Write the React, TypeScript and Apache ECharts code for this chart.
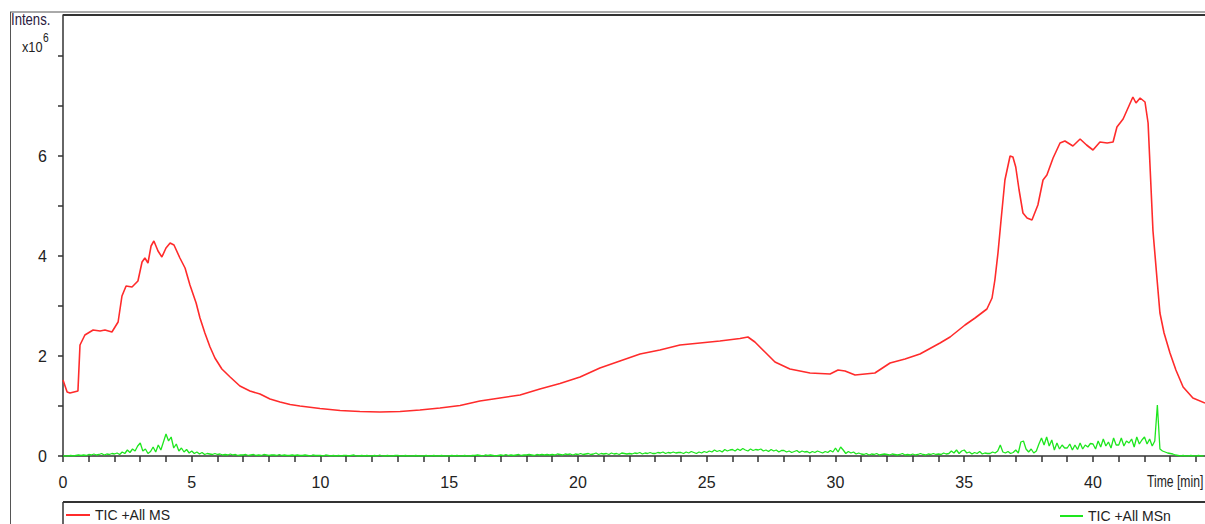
import React, { useEffect, useRef } from "react";
import * as echarts from "echarts";

// TIC +All MS (red) — time [min] and intensity [x10^6]
const redTimes = [
  0, 0.16, 0.27, 0.58, 0.66, 0.85, 1.17, 1.44, 1.63, 1.9, 2.14, 2.29, 2.45, 2.68, 2.91,
  3.07, 3.18, 3.3, 3.42, 3.53, 3.69, 3.84, 4.0, 4.16, 4.31, 4.54, 4.74, 4.93, 5.17, 5.32,
  5.51, 5.71, 5.9, 6.17, 6.49, 6.87, 7.26, 7.65, 8.04, 8.43, 8.82, 9.2, 9.98, 10.76, 11.53,
  12.31, 13.09, 13.86, 14.64, 15.42, 16.19, 16.97, 17.75, 18.52, 19.3, 20.08, 20.85, 21.63,
  22.41, 23.18, 23.96, 24.74, 25.51, 26.29, 26.6, 26.87, 27.26, 27.65, 28.23, 29.01, 29.79,
  30.1, 30.37, 30.76, 31.53, 32.12, 32.7, 33.28, 34.06, 34.45, 35.03, 35.42, 35.88, 36.08,
  36.19, 36.31, 36.43, 36.58, 36.78, 36.89, 37.0, 37.13, 37.28, 37.44, 37.63, 37.86, 38.06,
  38.21, 38.45, 38.72, 38.91, 39.22, 39.5, 39.75, 40.0, 40.27, 40.55, 40.78, 40.93, 41.17,
  41.36, 41.55, 41.67, 41.83, 42.02, 42.14, 42.21, 42.33, 42.49, 42.6, 42.76, 42.99, 43.22,
  43.5, 43.88, 44.35,
];
const redValues = [
  1.52, 1.28, 1.26, 1.3, 2.22, 2.42, 2.52, 2.5, 2.52, 2.48, 2.68, 3.2, 3.4, 3.38, 3.5,
  3.88, 3.96, 3.86, 4.2, 4.3, 4.1, 3.98, 4.16, 4.26, 4.22, 3.96, 3.76, 3.42, 3.06, 2.76,
  2.46, 2.18, 1.96, 1.74, 1.58, 1.4, 1.3, 1.24, 1.14, 1.08, 1.03, 1.0, 0.95, 0.91, 0.89,
  0.88, 0.89, 0.92, 0.96, 1.01, 1.1, 1.16, 1.22, 1.34, 1.45, 1.58, 1.76, 1.9,
  2.04, 2.12, 2.22, 2.26, 2.3, 2.35, 2.38, 2.28, 2.08, 1.88, 1.74, 1.66, 1.64,
  1.72, 1.7, 1.62, 1.66, 1.86, 1.94, 2.04, 2.26, 2.38, 2.62, 2.76, 2.94, 3.16,
  3.52, 4.06, 4.72, 5.52, 6.0, 5.98, 5.78, 5.32, 4.86, 4.76, 4.72, 5.02, 5.52,
  5.62, 5.96, 6.26, 6.3, 6.2, 6.34, 6.22, 6.12, 6.28, 6.26, 6.28, 6.58, 6.74,
  6.96, 7.18, 7.06, 7.16, 7.08, 6.66, 5.86, 4.5, 3.52, 2.86, 2.46, 2.06, 1.72,
  1.38, 1.16, 1.06,
];

// TIC +All MSn (green) — one value every GREEN_STEP minutes from 0 (one row per minute)
const GREEN_STEP = 0.1;
const greenValues = [
  0, 0, 0, 0.01, 0, 0.01, 0.02, 0.01, 0.02, 0.01,
  0.03, 0.02, 0.04, 0.02, 0.03, 0.05, 0.02, 0.04, 0.03, 0.05,
  0.04, 0.06, 0.03, 0.08, 0.05, 0.12, 0.07, 0.14, 0.1, 0.2,
  0.26, 0.1, 0.14, 0.05, 0.09, 0.18, 0.08, 0.22, 0.12, 0.28,
  0.44, 0.3, 0.38, 0.16, 0.24, 0.1, 0.16, 0.08, 0.13, 0.06,
  0.1, 0.05, 0.08, 0.04, 0.07, 0.03, 0.05, 0.04, 0.03, 0.05,
  0.03, 0.04, 0.02, 0.03, 0.02, 0.04, 0.02, 0.03, 0.01, 0.02,
  0.02, 0.03, 0.01, 0.02, 0.03, 0.01, 0.02, 0.01, 0.03, 0.02,
  0.01, 0.02, 0.02, 0.01, 0.03, 0.01, 0.02, 0.01, 0.01, 0.02,
  0.01, 0.02, 0.01, 0.01, 0.02, 0.01, 0, 0.02, 0.01, 0.01,
  0.01, 0, 0.02, 0.01, 0, 0.01, 0, 0.01, 0, 0.01,
  0.01, 0, 0.01, 0.02, 0, 0, 0.01, 0, 0.01, 0,
  0, 0.01, 0, 0.02, 0, 0, 0.01, 0, 0, 0.01,
  0.01, 0, 0, 0.01, 0, 0, 0, 0.01, 0, 0,
  0, 0.01, 0, 0, 0.01, 0, 0, 0.01, 0, 0,
  0, 0.01, 0, 0.01, 0, 0, 0.01, 0, 0, 0.01,
  0.01, 0.02, 0.01, 0, 0.02, 0.01, 0.02, 0.01, 0, 0.01,
  0.02, 0.01, 0.03, 0.01, 0.02, 0.01, 0.02, 0.03, 0.01, 0.02,
  0.02, 0.03, 0.02, 0.01, 0.03, 0.02, 0.03, 0.02, 0.03, 0.02,
  0.03, 0.02, 0.04, 0.03, 0.02, 0.04, 0.03, 0.04, 0.02, 0.04,
  0.03, 0.05, 0.03, 0.04, 0.05, 0.03, 0.04, 0.06, 0.03, 0.05,
  0.04, 0.05, 0.03, 0.06, 0.04, 0.05, 0.03, 0.06, 0.05, 0.04,
  0.05, 0.04, 0.06, 0.05, 0.07, 0.04, 0.06, 0.05, 0.07, 0.05,
  0.05, 0.07, 0.06, 0.08, 0.05, 0.07, 0.06, 0.08, 0.06, 0.07,
  0.07, 0.05, 0.08, 0.06, 0.09, 0.07, 0.05, 0.08, 0.06, 0.09,
  0.07, 0.1, 0.08, 0.12, 0.09, 0.11, 0.08, 0.13, 0.1, 0.12,
  0.13, 0.1, 0.14, 0.11, 0.15, 0.12, 0.1, 0.14, 0.11, 0.13,
  0.12, 0.14, 0.1, 0.12, 0.09, 0.13, 0.1, 0.12, 0.08, 0.11,
  0.11, 0.08, 0.1, 0.07, 0.09, 0.11, 0.07, 0.1, 0.08, 0.09,
  0.06, 0.09, 0.07, 0.1, 0.08, 0.06, 0.09, 0.07, 0.11, 0.08,
  0.16, 0.08, 0.18, 0.12, 0.05, 0.09, 0.06, 0.08, 0.04, 0.06,
  0.04, 0.03, 0.05, 0.02, 0.04, 0.03, 0.05, 0.02, 0.03, 0.04,
  0.03, 0.02, 0.04, 0.03, 0.02, 0.03, 0.05, 0.02, 0.03, 0.02,
  0.04, 0.02, 0.03, 0.05, 0.03, 0.02, 0.04, 0.03, 0.05, 0.03,
  0.04, 0.03, 0.06, 0.04, 0.05, 0.1, 0.06, 0.12, 0.05, 0.1,
  0.12, 0.06, 0.08, 0.04, 0.07, 0.05, 0.09, 0.04, 0.06, 0.05,
  0.05, 0.08, 0.06, 0.1, 0.22, 0.08, 0.06, 0.09, 0.05, 0.07,
  0.12, 0.06, 0.28, 0.3, 0.14, 0.08, 0.14, 0.06, 0.1, 0.24,
  0.36, 0.22, 0.38, 0.2, 0.32, 0.12, 0.26, 0.14, 0.22, 0.16,
  0.16, 0.24, 0.12, 0.22, 0.13, 0.26, 0.14, 0.22, 0.18, 0.25,
  0.24, 0.14, 0.3, 0.18, 0.34, 0.2, 0.28, 0.16, 0.36, 0.22,
  0.22, 0.36, 0.2, 0.3, 0.26, 0.34, 0.18, 0.38, 0.24, 0.32,
  0.38, 0.24, 0.34, 0.2, 0.3, 1.02, 0.14, 0.1, 0.08, 0.06,
  0.05, 0.04, 0.02, 0.01, 0, 0.01, 0, 0, 0.01, 0,
  0, 0.01, 0, 0,
];

const seriesNames = ["TIC +All MS", "TIC +All MSn"];
const xLabelStep = 5;
const yLabelValues = [0, 2, 4, 6];
const X_MAX = 44.35;
const Y_MAX = 8.82;

const FONT = "'Liberation Sans', Arial, sans-serif";
const TEXT = "#222";
const RED = "#ff2b2b";
const GREEN = "#1ee61e";

export default function App() {
  const ref = useRef<HTMLDivElement>(null);

  useEffect(() => {
    if (!ref.current) return;
    const chart = echarts.init(ref.current, null, { renderer: "svg" });

    const redData = redTimes.map((t, i) => [t, redValues[i]]);
    const greenData = greenValues.map((v, i) => [Math.round(i * GREEN_STEP * 100) / 100, v]);

    const label = (text: string, x: number, y: number, size: number, sx: number, fill = TEXT) => ({
      type: "text",
      x,
      y,
      scaleX: sx,
      style: { text, fill, fontSize: size, fontFamily: FONT, align: "left", verticalAlign: "top" },
    });

    chart.setOption({
      animation: false,
      backgroundColor: "#fff",
      textStyle: { fontFamily: FONT },
      grid: { left: 63, top: 15, right: 0, bottom: 68, containLabel: false },
      xAxis: {
        type: "value",
        min: 0,
        max: X_MAX,
        interval: 1,
        splitLine: { show: false },
        axisLine: { show: true, onZero: false, lineStyle: { color: "#333", width: 1.5 } },
        axisTick: { show: true, length: 6, lineStyle: { color: "#333", width: 1.5 } },
        axisLabel: {
          show: true,
          margin: 18,
          color: TEXT,
          fontSize: 16,
          fontFamily: FONT,
          showMaxLabel: false,
          formatter: (v: number) => (Math.abs(v % xLabelStep) < 1e-6 ? String(v) : ""),
        },
      },
      yAxis: {
        type: "value",
        min: 0,
        max: Y_MAX,
        interval: 1,
        splitLine: { show: false },
        axisLine: { show: true, lineStyle: { color: "#333", width: 1.5 } },
        axisTick: { show: true, length: 5, lineStyle: { color: "#333", width: 1.5 } },
        axisLabel: {
          show: true,
          margin: 16,
          color: TEXT,
          fontSize: 16,
          fontFamily: FONT,
          showMaxLabel: false,
          formatter: (v: number) => (yLabelValues.includes(v) ? String(v) : ""),
        },
      },
      legend: [
        {
          data: [seriesNames[0]],
          left: 66,
          top: 508,
          padding: 0,
          icon: "rect",
          itemWidth: 24,
          itemHeight: 2,
          itemGap: 0,
          textStyle: { color: TEXT, fontSize: 14, fontFamily: FONT },
        },
        {
          data: [seriesNames[1]],
          left: 1060,
          top: 509,
          padding: 0,
          icon: "rect",
          itemWidth: 23,
          itemHeight: 2,
          itemGap: 0,
          textStyle: { color: TEXT, fontSize: 14, fontFamily: FONT },
        },
      ],
      graphic: [
        { type: "line", shape: { x1: 10, y1: 12, x2: 1205, y2: 12 }, style: { stroke: "#555", lineWidth: 1 } },
        { type: "line", shape: { x1: 10.5, y1: 12, x2: 10.5, y2: 524 }, style: { stroke: "#555", lineWidth: 1 } },
        { type: "line", shape: { x1: 63, y1: 15, x2: 1205, y2: 15 }, style: { stroke: "#333", lineWidth: 2 } },
        { type: "line", shape: { x1: 63, y1: 502, x2: 1205, y2: 502 }, style: { stroke: "#333", lineWidth: 2 } },
        { type: "line", shape: { x1: 63, y1: 502, x2: 63, y2: 524 }, style: { stroke: "#333", lineWidth: 1.5 } },
        label("Intens.", 11, 12, 16, 0.82, "#2a2040"),
        label("x10", 22, 39, 15, 0.85),
        label("6", 43, 32, 12, 0.85),
        label("Time [min]", 1147, 473, 16, 0.76),
      ],
      series: [
        {
          name: seriesNames[1],
          type: "line",
          data: greenData,
          showSymbol: false,
          symbol: "none",
          lineStyle: { color: GREEN, width: 1.3 },
          itemStyle: { color: GREEN },
          z: 2,
        },
        {
          name: seriesNames[0],
          type: "line",
          data: redData,
          showSymbol: false,
          symbol: "none",
          lineStyle: { color: RED, width: 1.6 },
          itemStyle: { color: RED },
          z: 3,
        },
      ],
    });

    return () => chart.dispose();
  }, []);

  return (
    <div
      ref={ref}
      style={{ position: "fixed", left: 0, top: 0, width: 1205, height: 524, background: "#fff" }}
    />
  );
}
